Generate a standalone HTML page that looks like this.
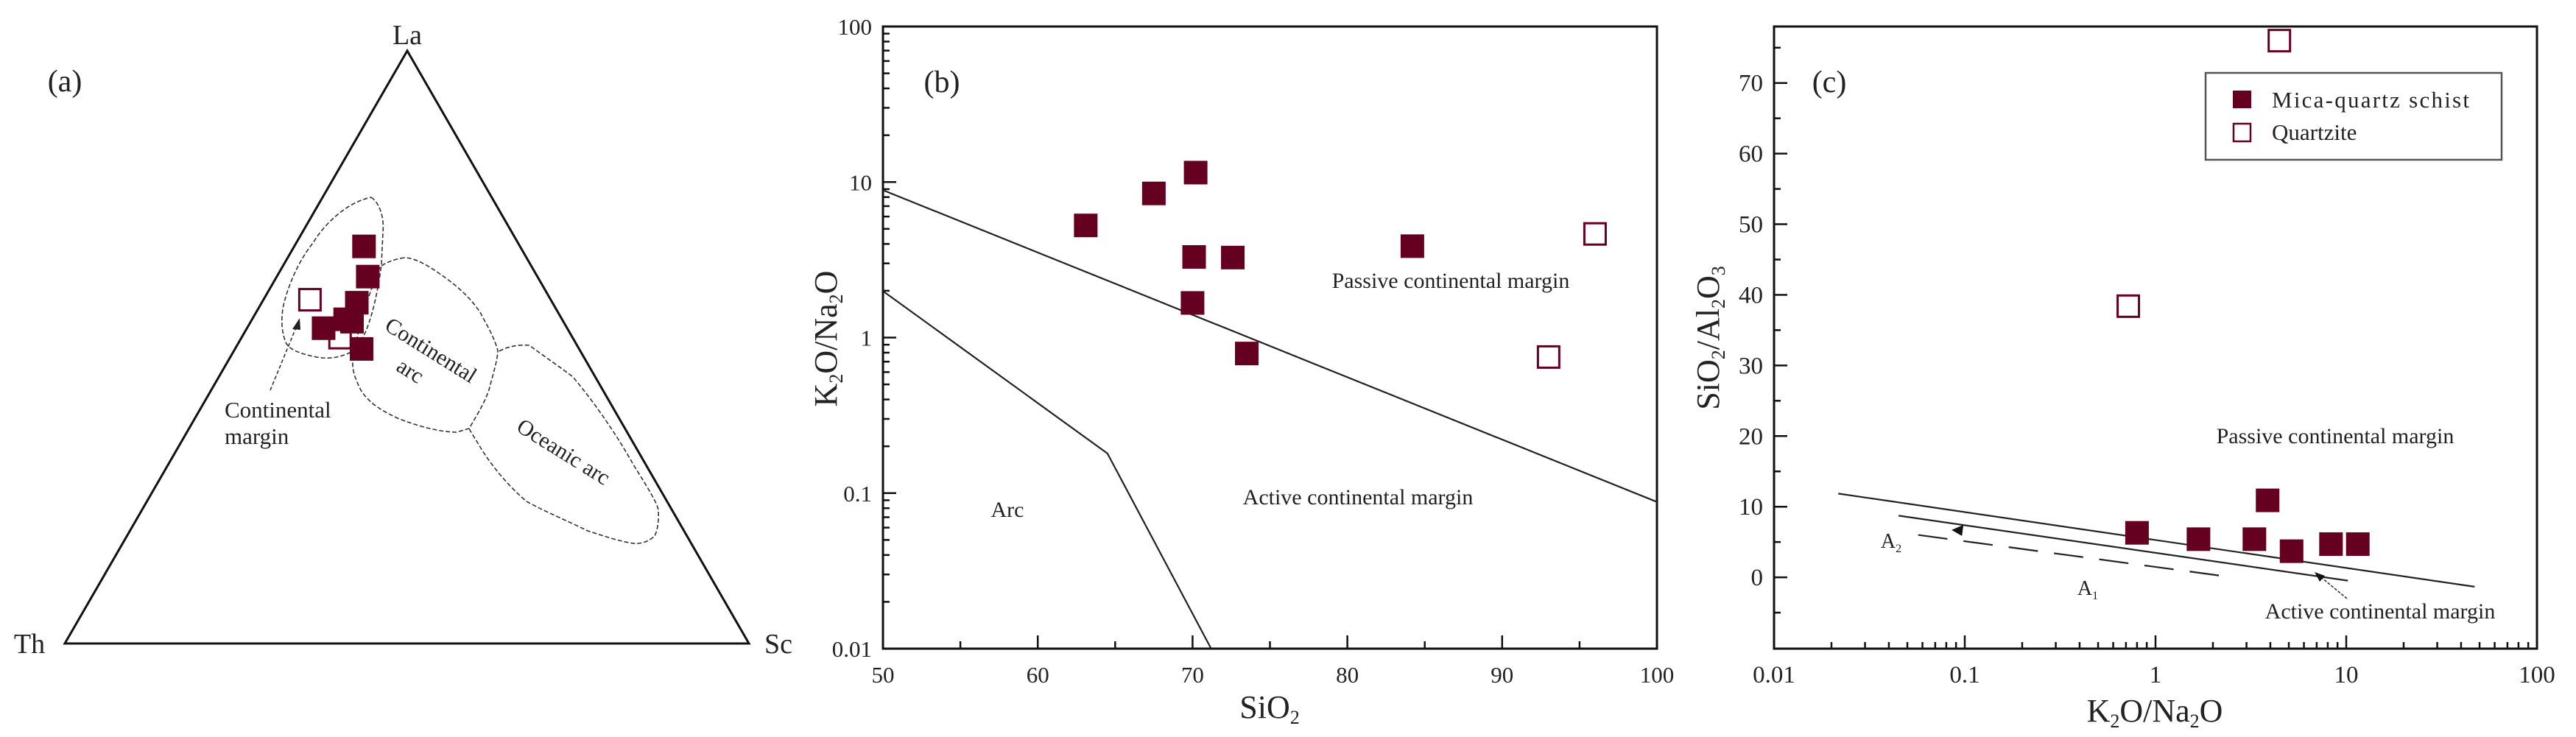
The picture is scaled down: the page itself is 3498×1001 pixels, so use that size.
<!DOCTYPE html>
<html><head><meta charset="utf-8"><style>
html,body{margin:0;padding:0;background:#fff}
svg{display:block}
text{font-family:"Liberation Serif",serif;fill:#222}
</style></head><body>
<svg id="fig" width="3498" height="1001" viewBox="0 0 3498 1001" xmlns="http://www.w3.org/2000/svg">
<g id="pa"></g>
<g id="pb"></g>
<g id="pc"></g>
</svg>
<script>
// ---------- Panel (a) ternary data: fractions [La, Th, Sc] ----------
const aFilledLa = [0.670, 0.619, 0.575, 0.543, 0.547, 0.532, 0.497];
const aFilledSc = [0.102, 0.133, 0.139, 0.148, 0.136, 0.112, 0.185];
const aOpenLa = [0.580, 0.516];
const aOpenSc = [0.068, 0.144];
// ---------- Panel (b) ----------
const bFilledSiO2 = [63.1, 67.5, 70.2, 70.1, 72.6, 70.0, 73.5, 84.2];
const bFilledK2ONa2O = [5.26, 8.45, 11.5, 3.3, 3.27, 1.67, 0.79, 3.87];
const bOpenSiO2 = [96.0, 93.0];
const bOpenK2ONa2O = [4.64, 0.75];
const bLine1X = [50, 100];
const bLine1Y = [8.87, 0.0878];
const bLine2X = [50, 64.5, 71.2];
const bLine2Y = [1.99, 0.18, 0.01];
const bXTicks = [50, 60, 70, 80, 90, 100];
const bYTicks = [0.01, 0.1, 1, 10, 100];
const bYTickLabels = ["0.01", "0.1", "1", "10", "100"];
// ---------- Panel (c) ----------
const cFilledK2ONa2O = [0.80, 1.68, 3.30, 3.87, 5.17, 8.32, 11.5];
const cFilledSiO2Al2O3 = [6.3, 5.4, 5.4, 10.9, 3.7, 4.7, 4.7];
const cOpenK2ONa2O = [0.72, 4.46];
const cOpenSiO2Al2O3 = [38.4, 76.0];
const cLine1X = [0.0217, 47.1];
const cLine1Y = [11.86, -1.33];
const cLine2X = [0.045, 10.2];
const cLine2Y = [8.73, -0.47];
const cDashX = [0.057, 2.54];
const cDashY = [6.0, 0.0];
const cXTicks = [0.01, 0.1, 1, 10, 100];
const cXTickLabels = ["0.01", "0.1", "1", "10", "100"];
const cYTicks = [0, 10, 20, 30, 40, 50, 60, 70];

const NS = "http://www.w3.org/2000/svg";
const COL = "#650020";
function mk(parent, tag, attrs, txt) {
  const e = document.createElementNS(NS, tag);
  for (const k in attrs) e.setAttribute(k, attrs[k]);
  if (txt !== undefined) e.textContent = txt;
  parent.appendChild(e);
  return e;
}
function sq(parent, x, y, filled, name) {
  const s = 32;
  const r = mk(parent, "rect", filled ?
    {x: x - s/2, y: y - s/2, width: s, height: s, fill: COL} :
    {x: x - s/2 + 1.5, y: y - s/2 + 1.5, width: s - 3, height: s - 3, fill: "#fff", stroke: COL, "stroke-width": 3});
  
  
  return r;
}

// ===== Panel A =====
const pa = document.getElementById("pa");
const LA = [553, 69], TH = [88, 874], SC = [1017, 874];
function tern(la, sc) { const th = 1 - la - sc; return [la*LA[0] + th*TH[0] + sc*SC[0], la*LA[1] + th*TH[1] + sc*SC[1]]; }
let e = mk(pa, "polygon", {points: `${LA} ${TH} ${SC}`, fill: "none", stroke: "#111", "stroke-width": 3});


const fields = [
  ["continental-margin-field", "M504,268 C515,275 522,295 520,315 L518,359 C510,420 495,470 475,479 C460,486 445,488 430,485 C405,480 392,474 388,465 C382,450 381,430 386,410 C393,385 405,355 425,330 C440,305 470,275 504,268 Z"],
  ["continental-arc-field", "M549,350 C535,352 520,358 516,363 C500,400 485,450 479,489 C478,505 483,515 490,530 C500,545 512,555 540,568 C570,580 600,587 620,587 L637,582 C650,560 662,540 666,522 C672,500 676,485 676,476 C670,455 660,440 653,426 C640,405 620,388 603,376 C585,363 565,350 549,350 Z"],
  ["oceanic-arc-field", "M678,477 C690,470 705,468 719,469 C740,485 760,498 778,512 C810,550 840,595 860,631 C878,660 894,685 894,694 C895,710 892,722 889,728 C880,736 870,739 860,738 C840,735 820,728 798,721 C770,707 740,695 715,681 C690,660 665,630 649,602 C644,594 640,588 637,582"]
];
fields.forEach(f => {
  const p = mk(pa, "path", {d: f[1], fill: "none", stroke: "#333", "stroke-width": 1.6, "stroke-dasharray": "6 3"});
  
  
});
e = mk(pa, "line", {x1: 367, y1: 530, x2: 404, y2: 440, stroke: "#333", "stroke-width": 1.6, "stroke-dasharray": "5 3"});


e = mk(pa, "polygon", {points: "407,432 397,447 408,448", fill: "#222"});


aOpenLa.forEach((v, i) => { const p = tern(v, aOpenSc[i]); sq(pa, p[0], p[1], false, 'quartzite-point'); });
aFilledLa.forEach((v, i) => { const p = tern(v, aFilledSc[i]); sq(pa, p[0], p[1], true, 'mica-quartz-schist-point'); });
const aTexts = [
  ["label-la", "La", 553, 60, 38, "middle", 0],
  ["label-th", "Th", 40, 887, 38, "middle", 0],
  ["label-sc", "Sc", 1038, 887, 38, "start", 0],
  ["panel-a-label", "(a)", 88, 124, 42, "middle", 0],
  ["continental-margin-label", "Continental", 305, 567, 31, "start", 0],
  ["continental-margin-label-2", "margin", 305, 603, 31, "start", 0]
];
aTexts.forEach(t => {
  const x = mk(pa, "text", {x: t[2], y: t[3], "font-size": t[4], "text-anchor": t[5]}, t[1]);
  
  
});
e = mk(pa, "text", {x: 0, y: 0, "font-size": 30, "text-anchor": "middle", transform: "translate(580,484) rotate(32)"}, "Continental");


e = mk(pa, "text", {x: 0, y: 0, "font-size": 30, "text-anchor": "middle", transform: "translate(552,512) rotate(32)"}, "arc");


e = mk(pa, "text", {x: 0, y: 0, "font-size": 30, "text-anchor": "middle", transform: "translate(760,622) rotate(32)"}, "Oceanic arc");



// ===== Panel B =====
const pb = document.getElementById("pb");
const B = {l: 1199, r: 2250, t: 36, b: 881};
const bx = v => B.l + (v - 50) / 50 * (B.r - B.l);
const by = v => B.b - (Math.log10(v) + 2) / 4 * (B.b - B.t);
e = mk(pb, "rect", {x: B.l, y: B.t, width: B.r - B.l, height: B.b - B.t, fill: "none", stroke: "#111", "stroke-width": 3});


for (let v = 50; v <= 100; v += 5) {
  const len = v % 10 === 0 ? 18 : 10;
  e = mk(pb, "line", {x1: bx(v), y1: B.b, x2: bx(v), y2: B.b - len, stroke: "#111", "stroke-width": 2.5});
  
  
}
bXTicks.forEach(v => {
  const t = mk(pb, "text", {x: bx(v), y: 927, "font-size": 31, "text-anchor": "middle"}, String(v));
  
  
});
for (let d = -2; d < 2; d++) for (let m = 1; m < 10; m++) {
  const v = m * Math.pow(10, d);
  const len = m === 1 ? 18 : 9;
  e = mk(pb, "line", {x1: B.l, y1: by(v), x2: B.l + len, y2: by(v), stroke: "#111", "stroke-width": 2.5});
  
  
}
bYTicks.forEach((v, i) => {
  const t = mk(pb, "text", {x: 1184, y: by(v) + 11, "font-size": 31, "text-anchor": "end"}, bYTickLabels[i]);
  
  
});
function poly(parent, xs, ys, fx, fy, name, extra) {
  const pts = xs.map((v, i) => fx(v) + "," + fy(ys[i])).join(" ");
  const p = mk(parent, "polyline", Object.assign({points: pts, fill: "none", stroke: "#222", "stroke-width": 2.2}, extra || {}));
  
  
}
poly(pb, bLine1X, bLine1Y, bx, by, 'passive-active-boundary');
poly(pb, bLine2X, bLine2Y, bx, by, 'arc-active-boundary');
bFilledSiO2.forEach((v, i) => sq(pb, bx(v), by(bFilledK2ONa2O[i]), true, 'mica-quartz-schist-point'));
bOpenSiO2.forEach((v, i) => sq(pb, bx(v), by(bOpenK2ONa2O[i]), false, 'quartzite-point'));
[["panel-b-label", "(b)", 1279, 125, 42],
 ["passive-margin-label", "Passive continental margin", 1970, 391, 30],
 ["active-margin-label", "Active continental margin", 1844, 685, 30],
 ["arc-label", "Arc", 1368, 702, 30]].forEach(t => {
  const x = mk(pb, "text", {x: t[2], y: t[3], "font-size": t[4], "text-anchor": "middle"}, t[1]);
  
  
});
e = mk(pb, "text", {x: 1724, y: 975, "font-size": 44, "text-anchor": "middle"});
e.innerHTML = 'SiO<tspan font-size="26" dy="8">2</tspan>';


e = mk(pb, "text", {x: 0, y: 0, "font-size": 44, "text-anchor": "middle", transform: "translate(1136,460) rotate(-90)"});
e.innerHTML = 'K<tspan font-size="26" dy="8">2</tspan><tspan dy="-8">O/Na</tspan><tspan font-size="26" dy="8">2</tspan><tspan dy="-8">O</tspan>';



// ===== Panel C =====
const pc = document.getElementById("pc");
const C = {l: 2409, r: 3445, t: 36, b: 881};
const cx = v => C.l + (Math.log10(v) + 2) / 4 * (C.r - C.l);
const cy = v => C.b - (v + 10.1) / 88.1 * (C.b - C.t);
e = mk(pc, "rect", {x: C.l, y: C.t, width: C.r - C.l, height: C.b - C.t, fill: "none", stroke: "#111", "stroke-width": 3});


for (let d = -2; d < 2; d++) for (let m = 1; m < 10; m++) {
  const v = m * Math.pow(10, d);
  const len = m === 1 ? 18 : 9;
  e = mk(pc, "line", {x1: cx(v), y1: C.b, x2: cx(v), y2: C.b - len, stroke: "#111", "stroke-width": 2.5});
  
  
}
cXTicks.forEach((v, i) => {
  const t = mk(pc, "text", {x: cx(v), y: 927, "font-size": 33, "text-anchor": "middle"}, cXTickLabels[i]);
  
  
});
for (let v = -5; v <= 75; v += 5) {
  const len = v % 10 === 0 ? 18 : 9;
  e = mk(pc, "line", {x1: C.l, y1: cy(v), x2: C.l + len, y2: cy(v), stroke: "#111", "stroke-width": 2.5});
  
  
}
cYTicks.forEach(v => {
  const t = mk(pc, "text", {x: 2394, y: cy(v) + 11, "font-size": 33, "text-anchor": "end"}, String(v));
  
  
});
poly(pc, cLine1X, cLine1Y, cx, cy, 'passive-active-boundary');
poly(pc, cLine2X, cLine2Y, cx, cy, 'a1-boundary');
poly(pc, cDashX, cDashY, cx, cy, 'a2-dashed-boundary', {"stroke-dasharray": "40 22"});
e = mk(pc, "polygon", {points: `${cx(0.09)-6},${cy(6.7)} ${cx(0.09)+10},${cy(6.7)-7} ${cx(0.09)+8},${cy(6.7)+8}`, fill: "#111"});


e = mk(pc, "line", {x1: 3187, y1: 813, x2: 3147, y2: 780, stroke: "#333", "stroke-width": 1.6, "stroke-dasharray": "4 2"});


e = mk(pc, "polygon", {points: "3143,777 3157,782 3150,790", fill: "#111"});


cFilledK2ONa2O.forEach((v, i) => sq(pc, cx(v), cy(cFilledSiO2Al2O3[i]), true, 'mica-quartz-schist-point'));
cOpenK2ONa2O.forEach((v, i) => sq(pc, cx(v), cy(cOpenSiO2Al2O3[i]), false, 'quartzite-point'));
[["panel-c-label", "(c)", 2484, 125, 42, "middle"],
 ["passive-margin-label", "Passive continental margin", 3171, 602, 30, "middle"],
 ["active-margin-label", "Active continental margin", 3232, 840, 30, "middle"]].forEach(t => {
  const x = mk(pc, "text", {x: t[2], y: t[3], "font-size": t[4], "text-anchor": t[5]}, t[1]);
  
  
});
e = mk(pc, "text", {x: 2568, y: 744, "font-size": 28, "text-anchor": "middle"});
e.innerHTML = 'A<tspan font-size="16" dy="6">2</tspan>';


e = mk(pc, "text", {x: 2835, y: 808, "font-size": 28, "text-anchor": "middle"});
e.innerHTML = 'A<tspan font-size="16" dy="6">1</tspan>';


e = mk(pc, "text", {x: 2926, y: 980, "font-size": 44, "text-anchor": "middle"});
e.innerHTML = 'K<tspan font-size="26" dy="8">2</tspan><tspan dy="-8">O/Na</tspan><tspan font-size="26" dy="8">2</tspan><tspan dy="-8">O</tspan>';


e = mk(pc, "text", {x: 0, y: 0, "font-size": 44, "text-anchor": "middle", transform: "translate(2334,459) rotate(-90)"});
e.innerHTML = 'SiO<tspan font-size="26" dy="8">2</tspan><tspan dy="-8">/Al</tspan><tspan font-size="26" dy="8">2</tspan><tspan dy="-8">O</tspan><tspan font-size="26" dy="8">3</tspan>';


// legend
const lg = mk(pc, "g", {});


e = mk(lg, "rect", {x: 2995, y: 99, width: 402, height: 118, fill: "#fff", stroke: "#555", "stroke-width": 2.5});


e = mk(lg, "rect", {x: 3032, y: 123, width: 25, height: 24, fill: COL});


e = mk(lg, "rect", {x: 3033, y: 168, width: 23, height: 24, fill: "#fff", stroke: COL, "stroke-width": 2.5});


e = mk(lg, "text", {x: 3085, y: 146, "font-size": 31, textLength: 268}, "Mica-quartz schist");


e = mk(lg, "text", {x: 3085, y: 190, "font-size": 31}, "Quartzite");


</script>
</body></html>
